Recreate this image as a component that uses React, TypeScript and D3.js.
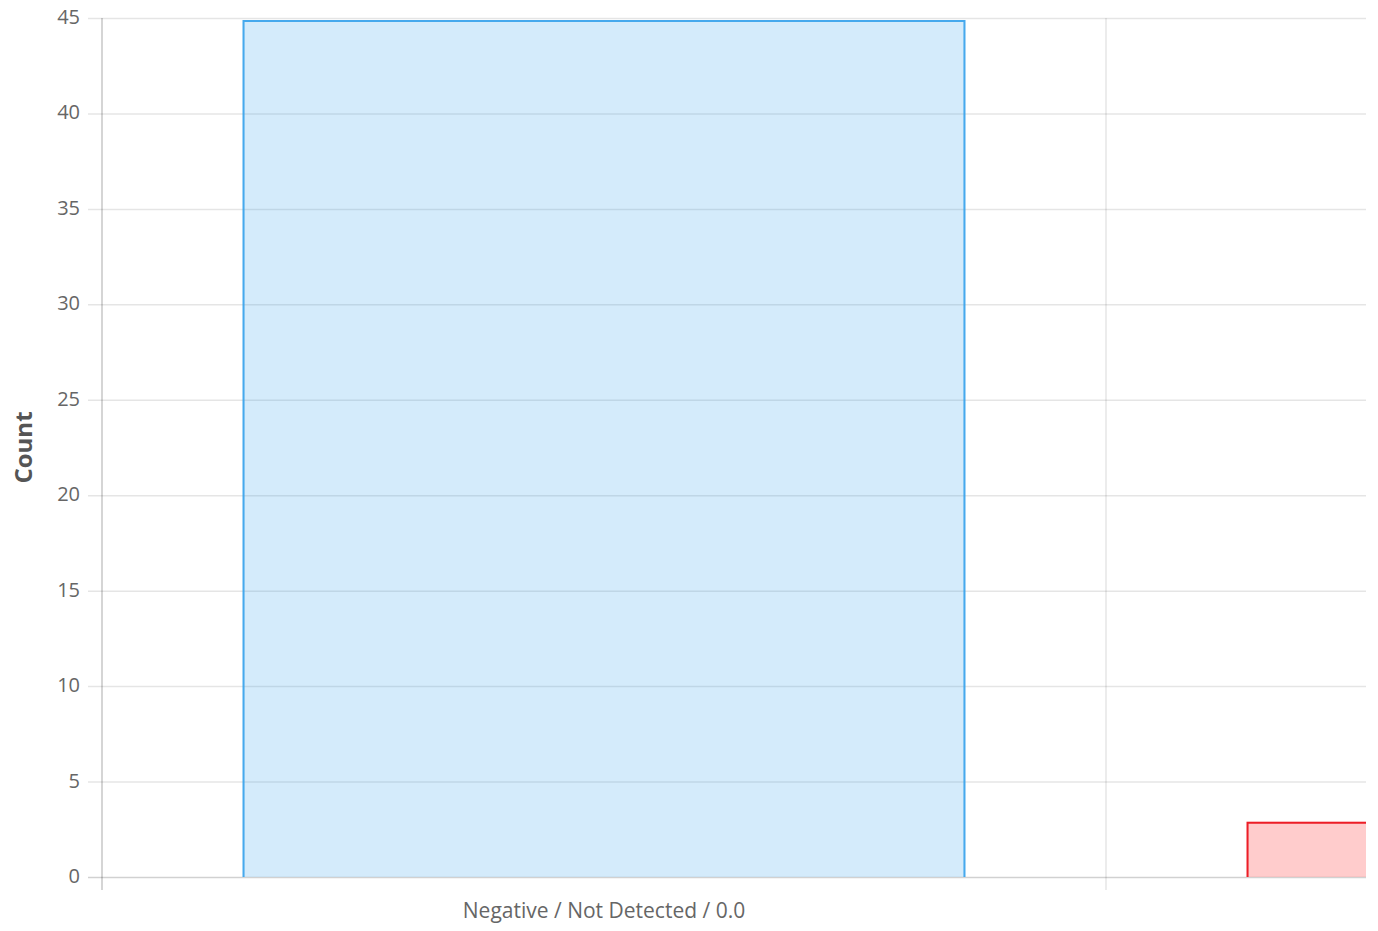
import React, { useEffect, useRef } from 'react'
import * as d3 from 'd3'

// data
const categories = ['Negative / Not Detected / 0.0', 'Positive / Detected / 1.0']
const counts = [45, 3]
const fills = ['rgba(54, 162, 235, 0.21)', 'rgba(255, 0, 0, 0.2)']
const strokes = ['rgba(54, 162, 235, 0.9)', 'rgba(235, 20, 30, 0.95)']
const yTicks = [0, 5, 10, 15, 20, 25, 30, 35, 40, 45]

const W = 1378
const H = 931

export default function App() {
  const ref = useRef<SVGSVGElement>(null)

  useEffect(() => {
    document.body.style.margin = '0'
    const svg = d3.select(ref.current)
    svg.selectAll('*').remove()

    const left = 102
    const right = 1366
    const top = 18
    const bottom = 877
    const catWidth = 1004 // each category is this wide, the second is cut off

    const x = d3.scaleBand<string>()
      .domain(categories)
      .range([left, left + catWidth * categories.length])
      .padding(0)
    const y = d3.scaleLinear().domain([0, 45]).range([bottom, top])

    svg.append('defs').append('clipPath').attr('id', 'plotclip')
      .append('rect').attr('x', left).attr('y', 0).attr('width', right - left).attr('height', H)

    const font = '"Open Sans", "DejaVu Sans", sans-serif'

    // horizontal grid
    svg.append('g').selectAll('line').data(yTicks).enter().append('line')
      .attr('x1', left - 14).attr('x2', right)
      .attr('y1', d => y(d) + 0.5).attr('y2', d => y(d) + 0.5)
      .attr('stroke', d => d === 0 ? 'rgba(0,0,0,0.18)' : 'rgba(0,0,0,0.1)')
      .attr('stroke-width', 1.5)

    // vertical grid (category boundaries)
    const bounds = categories.map(c => (x(c) as number)).concat([left + catWidth * categories.length])
    svg.append('g').attr('clip-path', 'url(#plotclip)').selectAll('line').data(bounds.slice(1)).enter().append('line')
      .attr('x1', d => d).attr('x2', d => d)
      .attr('y1', top).attr('y2', bottom + 13)
      .attr('stroke', 'rgba(0,0,0,0.1)').attr('stroke-width', 1.5)

    // y axis line
    svg.append('line')
      .attr('x1', left).attr('x2', left).attr('y1', top).attr('y2', bottom + 13)
      .attr('stroke', 'rgba(0,0,0,0.22)').attr('stroke-width', 1.5)

    // bars (no border on the bottom edge)
    const bw = x.bandwidth() * 0.72
    const bars = svg.append('g').attr('clip-path', 'url(#plotclip)')
    const bx = (c: string) => (x(c) as number) + (x.bandwidth() - bw) / 2
    bars.selectAll('rect').data(categories).enter().append('rect')
      .attr('x', c => bx(c))
      .attr('y', (c, i) => y(counts[i]) + 2)
      .attr('width', bw)
      .attr('height', (c, i) => bottom - y(counts[i]) - 2)
      .attr('fill', (c, i) => fills[i])
    bars.selectAll('path').data(categories).enter().append('path')
      .attr('d', (c, i) => {
        const p = d3.path()
        const x0 = bx(c) + 1
        const x1 = bx(c) + bw - 1
        const yt = y(counts[i]) + 3
        p.moveTo(x0, bottom)
        p.lineTo(x0, yt)
        p.lineTo(x1, yt)
        p.lineTo(x1, bottom)
        return p.toString()
      })
      .attr('fill', 'none')
      .attr('stroke', (c, i) => strokes[i])
      .attr('stroke-width', 2)

    // y tick labels
    svg.append('g').selectAll('text').data(yTicks).enter().append('text')
      .attr('x', 80).attr('y', d => y(d))
      .attr('dy', '0.3em')
      .attr('text-anchor', 'end')
      .attr('font-family', font).attr('font-size', 20).attr('fill', '#666')
      .text(d => d)

    // x labels, only those whose category centre is on screen
    const shown = categories.filter(c => (x(c) as number) + x.bandwidth() / 2 < right)
    svg.append('g').selectAll('text').data(shown).enter().append('text')
      .attr('x', c => (x(c) as number) + x.bandwidth() / 2)
      .attr('y', 918)
      .attr('text-anchor', 'middle')
      .attr('font-family', font).attr('font-size', 21).attr('fill', '#666')
      .text(c => c)

    // y title
    svg.append('text')
      .attr('transform', `translate(32, ${(top + bottom) / 2}) rotate(-90)`)
      .attr('text-anchor', 'middle')
      .attr('font-family', font).attr('font-size', 24).attr('font-weight', 'bold').attr('fill', '#555')
      .text('Count')
  }, [])

  return <svg ref={ref} width={W} height={H} style={{ display: 'block' }} />
}
